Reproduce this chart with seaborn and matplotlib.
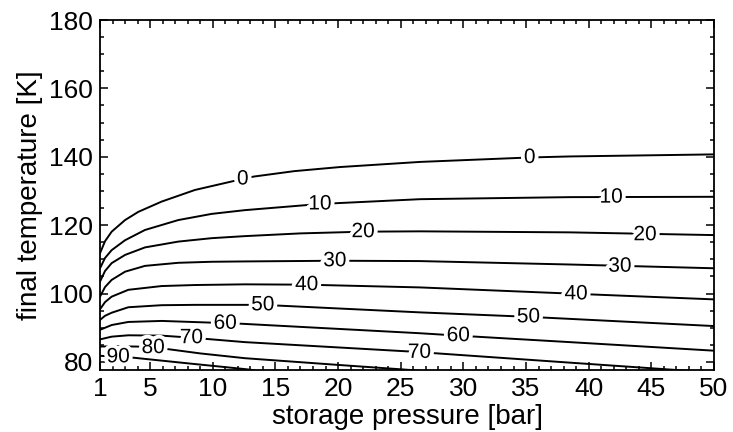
import matplotlib
matplotlib.use("Agg")
import matplotlib.pyplot as plt
import matplotlib.patheffects as pe
from matplotlib.ticker import MultipleLocator
import seaborn as sns
import pandas as pd

# ---- data (storage pressure [bar], final temperature [K]) ----
levels = ["0", "10", "20", "30", "40", "50", "60", "70", "80", "90"]

p_0 = [1, 1.4, 1.93, 3.0, 4.06, 5.92, 8.58, 11.77, 13.24, 16.5, 20.15, 26.54, 35.3, 38.5, 50]
T_0 = [111.8, 115.3, 118.1, 121.5, 123.9, 126.9, 130.3, 133.0, 134.2, 135.8, 137.0, 138.5, 139.8, 140.1, 140.7]

p_10 = [1, 1.4, 1.93, 3.0, 4.59, 7.25, 9.91, 12.57, 18.56, 26.54, 38.5, 50]
T_10 = [107.4, 110.4, 112.7, 115.6, 118.6, 121.5, 123.3, 124.4, 126.2, 127.6, 128.2, 128.3]

p_20 = [1, 1.4, 1.93, 3.0, 4.59, 7.25, 9.91, 12.57, 17.0, 22.0, 26.54, 38.5, 50]
T_20 = [103.5, 106.6, 108.9, 111.3, 113.5, 115.2, 116.2, 116.8, 117.6, 118.1, 118.2, 117.9, 117.1]

p_30 = [1, 1.4, 1.93, 3.0, 4.59, 7.25, 9.91, 12.57, 19.75, 26.54, 38.5, 50]
T_30 = [99.1, 101.9, 104.0, 106.4, 108.1, 109.0, 109.3, 109.4, 109.6, 109.5, 108.5, 107.4]

p_40 = [1, 1.4, 1.93, 3.26, 5.92, 8.58, 12.57, 17.5, 26.54, 38.5, 50]
T_40 = [95.4, 97.5, 99.1, 101.1, 102.2, 102.5, 102.7, 102.6, 101.8, 100.0, 98.3]

p_50 = [1, 1.4, 1.93, 3.26, 5.92, 8.58, 12.57, 14.0, 26.54, 35.2, 38.5, 50]
T_50 = [92.3, 93.5, 94.4, 96.0, 96.6, 96.7, 96.7, 96.7, 94.5, 93.2, 92.6, 90.5]

p_60 = [1, 1.93, 3.26, 5.92, 9.9, 12.17, 26.54, 29.6, 38.5, 50]
T_60 = [89.4, 90.8, 91.7, 92.0, 91.5, 91.2, 88.4, 87.7, 85.8, 83.3]

p_70 = [1, 1.93, 3.26, 5.92, 8.3, 12.57, 26.0, 38.5, 47.2, 48.0]
T_70 = [86.6, 87.4, 87.8, 87.7, 87.1, 85.8, 83.0, 79.8, 77.6, 77.4]

p_80 = [1, 2.2, 4.0, 5.25, 6.32, 9.0, 12.57, 20.15, 26.0, 26.6]
T_80 = [84.5, 84.6, 84.5, 84.2, 83.8, 82.5, 81.1, 79.1, 77.6, 77.4]

p_90 = [1, 2.46, 3.53, 8.0, 12.6, 13.3]
T_90 = [81.8, 81.5, 81.3, 79.6, 77.9, 77.6]

# contour label positions
label_text = ["0", "0", "10", "10", "20", "20", "30", "30", "40", "40",
              "50", "50", "60", "60", "70", "70", "80", "90"]
label_p = [12.4, 35.3, 18.56, 41.8, 22.0, 44.5, 19.75, 42.5, 17.5, 39.0,
           14.0, 35.2, 11.0, 29.6, 8.3, 26.5, 5.25, 2.46]
label_T = [133.5, 139.8, 126.2, 128.2, 118.1, 117.2, 109.6, 108.0, 102.6, 99.9,
           96.7, 93.2, 91.3, 87.7, 87.1, 82.8, 84.2, 81.5]

x_ticks = [1, 5, 10, 15, 20, 25, 30, 35, 40, 45, 50]
y_ticks = [80, 100, 120, 140, 160, 180]

# ---- build long table ----
series_p = [p_0, p_10, p_20, p_30, p_40, p_50, p_60, p_70, p_80, p_90]
series_T = [T_0, T_10, T_20, T_30, T_40, T_50, T_60, T_70, T_80, T_90]
rows = []
for lvl, ps, ts in zip(levels, series_p, series_T):
    for p, t in zip(ps, ts):
        rows.append({"level": lvl, "p": p, "T": t})
df = pd.DataFrame(rows)

sns.set_style("ticks")
plt.rcParams["font.family"] = ["Liberation Sans", "DejaVu Sans"]
plt.rcParams["text.color"] = "black"
plt.rcParams["axes.labelcolor"] = "black"

fig = plt.figure(figsize=(7.33, 4.32), dpi=100)
ax = fig.add_axes([100 / 733, 1 - 370 / 432, 614 / 733, 350 / 432])

sns.lineplot(data=df, x="p", y="T", hue="level", units="level", estimator=None,
             sort=False, palette={l: "black" for l in levels}, legend=False,
             linewidth=1.4, ax=ax)

for s, x, y in zip(label_text, label_p, label_T):
    ax.text(x, y, s, ha="center", va="center", fontsize=15, color="black",
            path_effects=[pe.withStroke(linewidth=5.5, foreground="white")])

ax.set_xlim(1, 50)
ax.set_ylim(77.65, 180)
ax.set_xticks(x_ticks)
ax.set_yticks(y_ticks)
ax.xaxis.set_minor_locator(MultipleLocator(1))
ax.yaxis.set_minor_locator(MultipleLocator(5))
ax.tick_params(which="both", direction="in", top=True, right=True, width=1.1,
               colors="black", labelsize=19)
ax.tick_params(which="major", length=6, pad=5)
ax.tick_params(which="minor", length=3)
for sp in ax.spines.values():
    sp.set_linewidth(1.3)
    sp.set_color("black")

ax.set_xlabel("storage pressure [bar]", fontsize=20, labelpad=2, color="black")
ax.set_ylabel("final temperature [K]", fontsize=20, labelpad=4, color="black")

fig.savefig("out.png", dpi=100)
